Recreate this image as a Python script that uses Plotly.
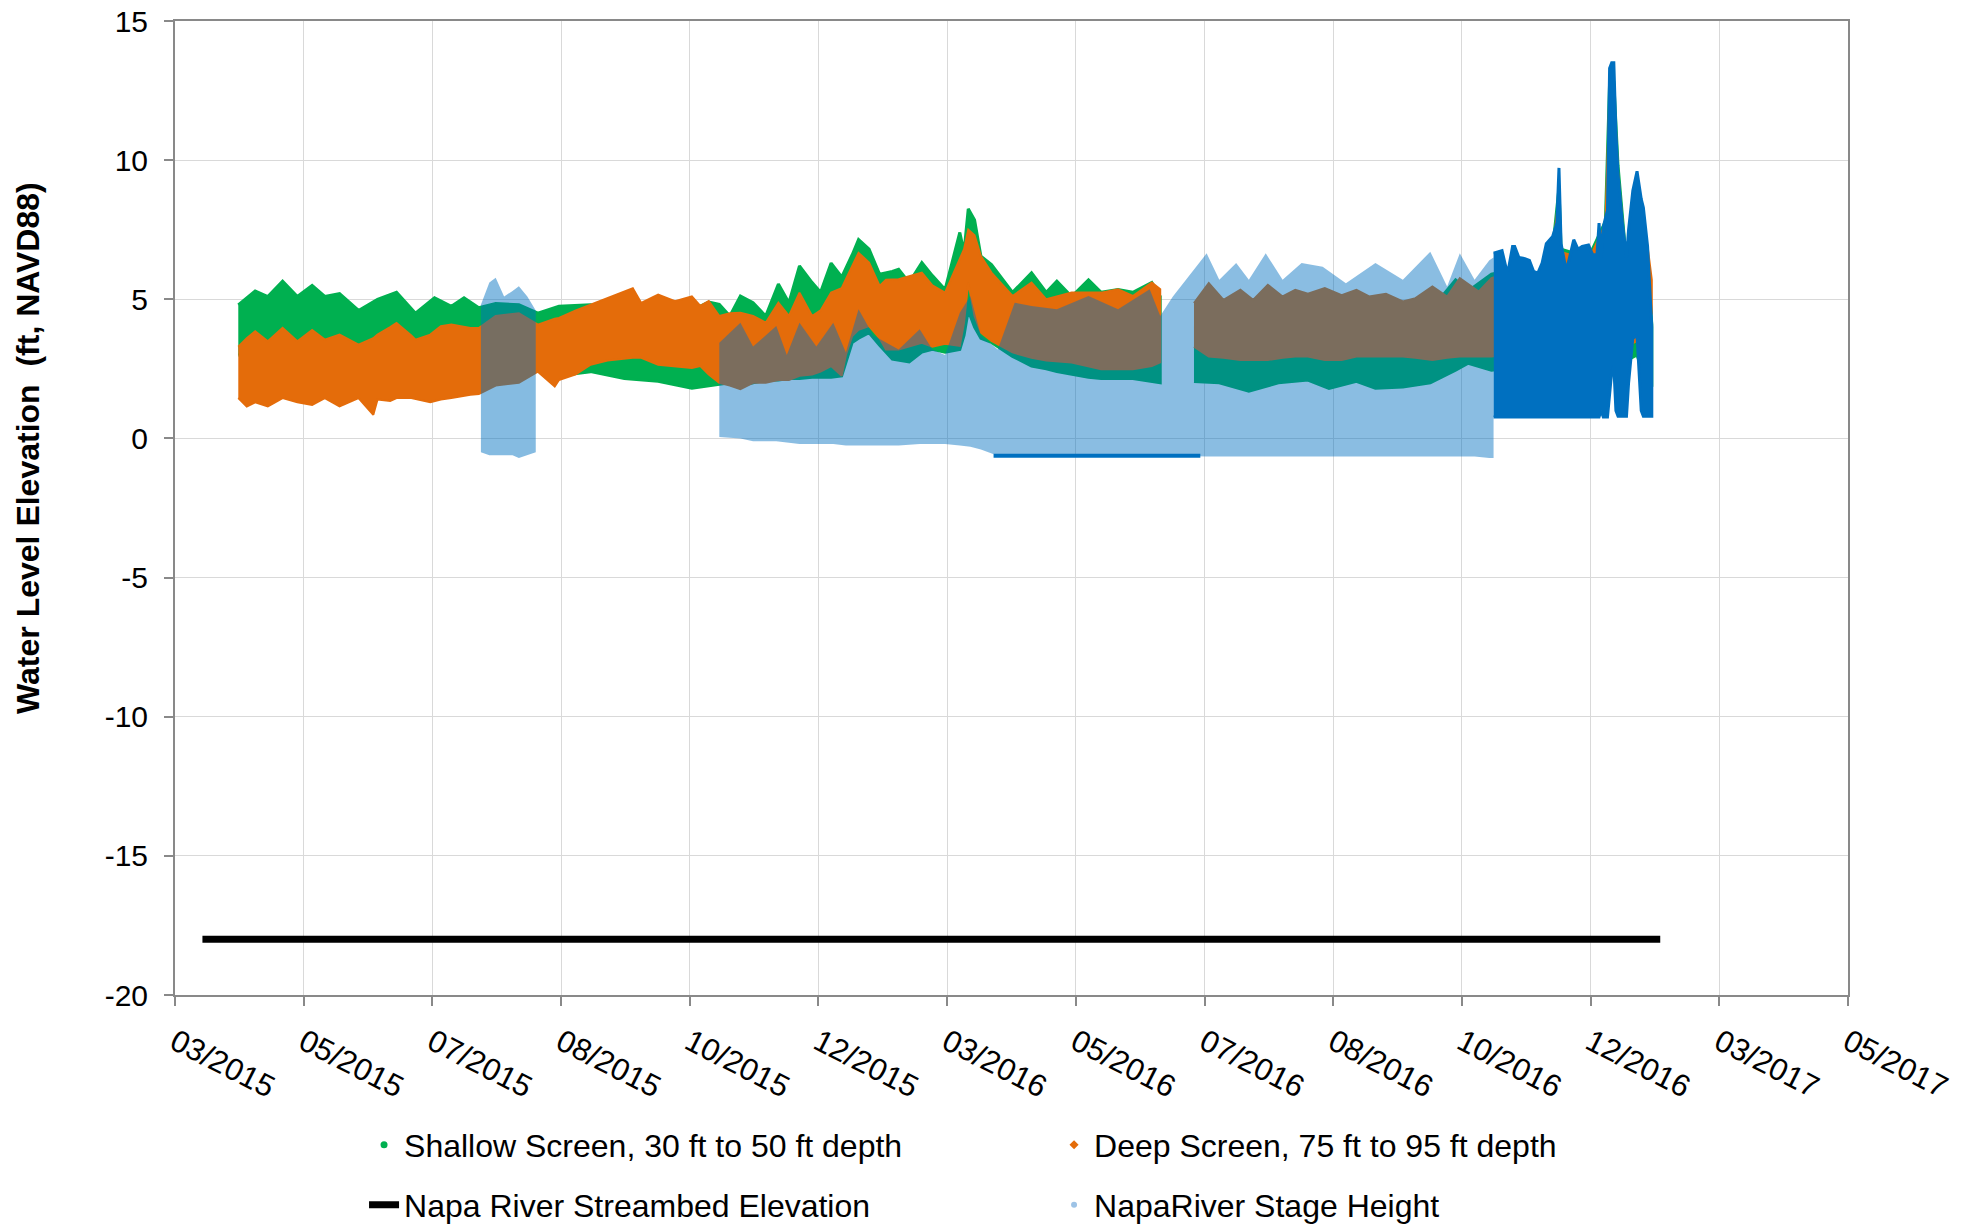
import plotly.graph_objects as go

# ---------------- axis ticks ----------------
tick_dates = ['2015-03-01', '2015-05-01', '2015-07-01', '2015-08-31', '2015-10-31', '2015-12-31',
              '2016-03-01', '2016-05-01', '2016-07-01', '2016-08-31', '2016-10-31', '2016-12-31',
              '2017-03-02', '2017-05-02']
tick_labels = ['03/2015', '05/2015', '07/2015', '08/2015', '10/2015', '12/2015', '03/2016',
               '05/2016', '07/2016', '08/2016', '10/2016', '12/2016', '03/2017', '05/2017']
y_ticks = [-20, -15, -10, -5, 0, 5, 10, 15]
y_tick_labels = ['-20', '-15', '-10', '-5', '0', '5', '10', '15']

# ---------------- Shallow screen (envelope: low / high) ----------------
shallow_a_dates = ['2015-03-31', '2015-04-08', '2015-04-14', '2015-04-21', '2015-04-28', '2015-05-05',
                   '2015-05-11', '2015-05-18', '2015-05-27', '2015-06-05', '2015-06-14', '2015-06-23',
                   '2015-07-02', '2015-07-10', '2015-07-16', '2015-07-23', '2015-07-31', '2015-08-11',
                   '2015-08-20', '2015-08-30', '2015-09-14', '2015-09-30', '2015-10-16', '2015-11-01',
                   '2015-11-09', '2015-11-14', '2015-11-19', '2015-11-24', '2015-11-30', '2015-12-06',
                   '2015-12-12', '2015-12-17', '2015-12-22', '2015-12-28', '2016-01-01', '2016-01-06',
                   '2016-01-11', '2016-01-16', '2016-01-19', '2016-01-24', '2016-01-29', '2016-02-04',
                   '2016-02-07', '2016-02-12', '2016-02-18', '2016-02-23', '2016-02-29', '2016-03-07',
                   '2016-03-09', '2016-03-11', '2016-03-14', '2016-03-17', '2016-03-22', '2016-04-01',
                   '2016-04-10', '2016-04-17', '2016-04-22', '2016-04-29', '2016-05-07', '2016-05-13',
                   '2016-05-21', '2016-05-28', '2016-06-06', '2016-06-10']
shallow_a_low = [3.0, 3.0, 3.0, 3.0, 3.0, 3.0,
                 3.0, 3.0, 3.0, 3.0, 3.0, 3.0,
                 3.0, 3.0, 3.0, 3.0, 3.0, 2.8,
                 2.55, 2.25, 2.4, 2.15, 2.05, 1.8,
                 1.9, 1.95, 2.0, 1.9, 2.0, 2.1,
                 2.1, 2.15, 2.15, 2.2, 2.2, 2.2,
                 2.25, 3.45, 3.6, 3.8, 3.35, 2.85,
                 2.8, 2.75, 3.1, 3.2, 3.1, 3.2,
                 3.7, 4.6, 4.0, 3.6, 3.45, 2.95,
                 2.6, 2.5, 2.4, 2.3, 2.2, 2.15,
                 2.15, 2.15, 2.05, 2.0]
shallow_a_high = [4.8, 5.3, 5.1, 5.65, 5.1, 5.5,
                  5.1, 5.2, 4.6, 5.0, 5.25, 4.5,
                  5.05, 4.75, 5.05, 4.7, 4.85, 4.8,
                  4.5, 4.75, 4.8, 4.6, 4.5, 4.6,
                  4.9, 4.82, 4.4, 5.12, 4.88, 4.4,
                  5.55, 4.88, 6.2, 5.6, 5.25, 6.3,
                  5.8, 6.6, 7.15, 6.8, 5.9, 6.0,
                  6.08, 5.6, 6.32, 5.85, 5.35, 7.4,
                  6.7, 8.25, 7.85, 6.55, 6.25, 5.25,
                  5.95, 5.25, 5.65, 5.1, 5.7, 5.25,
                  5.35, 5.25, 5.6, 5.1]

shallow_b_dates = ['2016-06-26', '2016-07-08', '2016-07-22', '2016-08-05', '2016-08-19', '2016-08-29',
                   '2016-09-11', '2016-09-20', '2016-10-03', '2016-10-16', '2016-10-28', '2016-11-03',
                   '2016-11-14', '2016-11-20', '2016-12-06', '2016-12-13', '2016-12-16', '2016-12-17',
                   '2016-12-30', '2017-01-07', '2017-01-09', '2017-01-11', '2017-01-13', '2017-01-17',
                   '2017-01-22', '2017-01-27', '2017-01-29']
shallow_b_low = [2.05, 2.0, 1.7, 2.0, 2.1, 1.8,
                 2.05, 1.8, 1.85, 2.0, 2.45, 2.7,
                 2.45, 2.5, 2.5, 2.6, 3.0, 3.0,
                 2.8, 3.0, 3.2, 3.2, 3.2, 2.8,
                 3.0, 1.85, 1.9]
shallow_b_high = [4.0, 4.0, 4.0, 4.0, 4.0, 4.0,
                  4.0, 4.0, 4.2, 4.6, 5.7, 5.3,
                  5.9, 6.0, 5.8, 6.8, 9.0, 6.8,
                  6.5, 7.8, 12.8, 12.8, 9.8, 6.3,
                  9.3, 6.5, 4.1]

# ---------------- Deep screen (envelope: low / high) ----------------
deep_a_dates = ['2015-03-31', '2015-04-04', '2015-04-08', '2015-04-14', '2015-04-21', '2015-04-28',
                '2015-05-05', '2015-05-11', '2015-05-18', '2015-05-27', '2015-06-03', '2015-06-05',
                '2015-06-11', '2015-06-14', '2015-06-21', '2015-06-23', '2015-06-30', '2015-07-05',
                '2015-07-10', '2015-07-19', '2015-07-23', '2015-07-31', '2015-08-11', '2015-08-20',
                '2015-08-28', '2015-08-30', '2015-09-07', '2015-09-14', '2015-09-22', '2015-10-04',
                '2015-10-08', '2015-10-16', '2015-10-24', '2015-11-01', '2015-11-05', '2015-11-09',
                '2015-11-14', '2015-11-19', '2015-11-24', '2015-11-30', '2015-12-06', '2015-12-12',
                '2015-12-17', '2015-12-22', '2015-12-28', '2016-01-01', '2016-01-06', '2016-01-11',
                '2016-01-13', '2016-01-16', '2016-01-19', '2016-01-24', '2016-01-29', '2016-02-01',
                '2016-02-07', '2016-02-18', '2016-02-23', '2016-02-29', '2016-03-07', '2016-03-09',
                '2016-03-11', '2016-03-14', '2016-03-17', '2016-03-22', '2016-04-01', '2016-04-10',
                '2016-04-17', '2016-04-29', '2016-05-13', '2016-05-21', '2016-05-28', '2016-06-06',
                '2016-06-10']
deep_a_low = [1.45, 1.15, 1.3, 1.15, 1.45, 1.3,
              1.2, 1.45, 1.15, 1.45, 0.85, 1.4,
              1.35, 1.45, 1.45, 1.4, 1.3, 1.4,
              1.45, 1.57, 1.6, 1.9, 2.0, 2.4,
              1.87, 2.1, 2.3, 2.65, 2.8, 2.9,
              2.9, 2.65, 2.6, 2.53, 2.6, 2.3,
              2.0, 1.9, 1.77, 2.0, 2.0, 2.1,
              2.1, 2.25, 2.3, 2.4, 2.6, 2.25,
              3.0, 3.68, 3.9, 4.04, 3.6, 3.2,
              3.2, 3.44, 3.3, 3.4, 3.33, 4.16,
              5.6, 4.4, 3.8, 3.5, 3.09, 2.9,
              2.8, 2.73, 2.49, 2.49, 2.49, 2.6,
              2.73]
deep_a_high = [3.3, 3.6, 3.85, 3.49, 3.97, 3.49,
               3.9, 3.55, 3.73, 3.37, 3.6, 3.73,
               4.0, 4.15, 3.7, 3.55, 3.73, 4.03,
               4.09, 3.97, 3.97, 4.4, 4.5, 4.09,
               4.3, 4.33, 4.6, 4.8, 5.05, 5.4,
               4.87, 5.17, 4.93, 5.1, 4.76, 4.94,
               4.4, 4.5, 4.52, 4.4, 4.16, 4.88,
               4.4, 5.24, 4.4, 4.6, 5.24, 5.4,
               5.72, 6.2, 6.67, 6.32, 5.48, 5.7,
               5.72, 5.96, 5.5, 5.24, 6.44, 6.8,
               7.5, 7.3, 6.55, 5.96, 5.12, 5.6,
               5.0, 5.24, 5.24, 5.36, 5.12, 5.6,
               5.36]

deep_b_dates = ['2016-06-26', '2016-07-03', '2016-07-10', '2016-07-18', '2016-07-24', '2016-07-31',
                '2016-08-07', '2016-08-13', '2016-08-19', '2016-08-27', '2016-09-04', '2016-09-11',
                '2016-09-17', '2016-09-25', '2016-10-03', '2016-10-09', '2016-10-17', '2016-10-24',
                '2016-10-30', '2016-11-08', '2016-11-14', '2016-11-20', '2016-12-06', '2016-12-13',
                '2016-12-16', '2016-12-17', '2016-12-30', '2017-01-07', '2017-01-09', '2017-01-11',
                '2017-01-13', '2017-01-17', '2017-01-22', '2017-01-27', '2017-01-29']
deep_b_low = [3.3, 2.94, 2.9, 2.82, 2.82, 2.82,
              2.9, 2.94, 2.94, 2.82, 2.82, 2.94,
              2.94, 2.94, 2.94, 2.9, 2.82, 2.9,
              2.94, 2.94, 2.94, 3.0, 3.0, 3.1,
              3.2, 3.2, 3.1, 3.3, 3.5, 3.5,
              3.5, 3.3, 3.5, 4.0, 4.5]
deep_b_high = [4.86, 5.58, 4.98, 5.34, 4.98, 5.52,
               5.1, 5.34, 5.2, 5.4, 5.15, 5.34,
               5.1, 5.2, 4.92, 5.04, 5.46, 5.1,
               5.76, 5.28, 5.76, 5.9, 5.7, 6.7,
               8.8, 6.7, 6.4, 7.7, 12.6, 12.6,
               9.6, 6.2, 9.1, 6.9, 5.7]

# ---------------- Napa River stage height ----------------
stage_a_dates = ['2015-07-24', '2015-07-28', '2015-07-31', '2015-08-04', '2015-08-08', '2015-08-11',
                 '2015-08-15', '2015-08-19']
stage_a_low = [-0.5, -0.6, -0.6, -0.6, -0.6, -0.7, -0.6, -0.5]
stage_a_high = [4.8, 5.6, 5.77, 5.1, 5.3, 5.47, 5.1, 4.6]

stage_b_dates = ['2015-11-14', '2015-11-24', '2015-11-30', '2015-12-11', '2015-12-16', '2015-12-22',
                 '2015-12-30', '2016-01-07', '2016-01-13', '2016-01-19', '2016-01-26', '2016-02-01',
                 '2016-02-07', '2016-02-17', '2016-02-23', '2016-02-29', '2016-03-07', '2016-03-12',
                 '2016-03-17', '2016-03-25', '2016-04-02', '2016-04-10', '2016-04-22', '2016-05-07',
                 '2016-05-21', '2016-06-05', '2016-06-10', '2016-06-16', '2016-07-02', '2016-07-08',
                 '2016-07-16', '2016-07-22', '2016-07-30', '2016-08-07', '2016-08-16', '2016-08-26',
                 '2016-09-06', '2016-09-20', '2016-10-03', '2016-10-16', '2016-10-24', '2016-10-30',
                 '2016-11-06', '2016-11-13', '2016-11-15']
stage_b_low = [0.05, 0.0, -0.1, -0.1, -0.15, -0.2,
               -0.2, -0.2, -0.25, -0.25, -0.25, -0.25,
               -0.25, -0.2, -0.2, -0.2, -0.25, -0.3,
               -0.4, -0.62, -0.62, -0.62, -0.62, -0.62,
               -0.62, -0.62, -0.62, -0.62, -0.65, -0.65,
               -0.65, -0.65, -0.65, -0.65, -0.65, -0.65,
               -0.65, -0.65, -0.65, -0.65, -0.65, -0.65,
               -0.65, -0.7, -0.7]
stage_b_high = [3.44, 4.16, 3.3, 4.04, 3.0, 4.16,
                3.3, 4.16, 3.09, 4.64, 3.7, 3.44,
                3.2, 3.92, 3.2, 3.0, 4.52, 5.12,
                3.7, 3.2, 4.88, 4.76, 4.64, 5.12,
                4.64, 5.36, 4.4, 5.1, 6.65, 5.7,
                6.3, 5.7, 6.65, 5.7, 6.3, 6.17,
                5.58, 6.3, 5.7, 6.71, 5.46, 6.65,
                5.7, 6.4, 6.5]

stage_floor_dates = ['2016-03-23', '2016-06-29']
stage_floor_values = [-0.62, -0.62]

stage_c_dates = ['2016-11-15', '2016-11-17', '2016-11-19', '2016-11-21', '2016-11-22', '2016-11-24',
                 '2016-11-25', '2016-11-27', '2016-11-29', '2016-12-02', '2016-12-04', '2016-12-06',
                 '2016-12-08', '2016-12-10', '2016-12-13', '2016-12-15', '2016-12-16', '2016-12-17',
                 '2016-12-19', '2016-12-20', '2016-12-22', '2016-12-23', '2016-12-25', '2016-12-27',
                 '2016-12-30', '2017-01-01', '2017-01-03', '2017-01-04', '2017-01-05', '2017-01-06',
                 '2017-01-08', '2017-01-09', '2017-01-10', '2017-01-11', '2017-01-12', '2017-01-13',
                 '2017-01-15', '2017-01-17', '2017-01-18', '2017-01-20', '2017-01-22', '2017-01-24',
                 '2017-01-25', '2017-01-27', '2017-01-29']
stage_c_low = [0.77, 0.77, 0.77, 0.77, 0.77, 0.77,
               0.77, 0.77, 0.77, 0.77, 0.77, 0.77,
               0.77, 0.77, 0.77, 0.77, 0.77, 0.77,
               0.77, 0.77, 0.77, 0.77, 0.77, 0.77,
               0.77, 0.77, 0.77, 0.77, 1.0, 0.77,
               0.77, 1.5, 2.4, 2.6, 1.0, 0.8,
               0.8, 0.8, 2.0, 3.6, 3.7, 1.0,
               0.8, 0.8, 0.8]
stage_c_high = [6.66, 6.7, 6.75, 6.1, 6.06, 6.9,
                6.9, 6.5, 6.48, 6.4, 6.0, 5.94,
                6.3, 7.0, 7.26, 7.74, 9.72, 7.0,
                6.2, 6.18, 6.9, 7.14, 6.8, 6.9,
                6.95, 6.6, 6.6, 7.74, 6.5, 7.6,
                8.2, 13.3, 13.5, 13.5, 11.0, 9.5,
                7.8, 6.5, 7.5, 8.9, 9.6, 8.6,
                8.3, 6.9, 4.0]

# ---------------- Streambed ----------------
streambed_dates = ['2015-03-14', '2017-02-02']
streambed_values = [-18, -18]

# ---------------- styles ----------------
GREEN = '#00B050'
ORANGE = '#E46C0A'
BLUE = '#0070C0'
FONT = 'Liberation Sans, Arial, sans-serif'

fig = go.Figure()


def band(dates, low, high, fillcolor, linecolor, lw):
    fig.add_trace(go.Scatter(
        x=list(dates) + list(dates)[::-1],
        y=list(high) + list(low)[::-1],
        mode='lines', fill='toself', fillcolor=fillcolor,
        line=dict(color=linecolor, width=lw, shape='linear'),
        showlegend=False, hoverinfo='skip'))


band(shallow_a_dates, shallow_a_low, shallow_a_high, GREEN, GREEN, 3)
band(shallow_b_dates, shallow_b_low, shallow_b_high, GREEN, GREEN, 3)
band(deep_a_dates, deep_a_low, deep_a_high, ORANGE, ORANGE, 2)
band(deep_b_dates, deep_b_low, deep_b_high, ORANGE, ORANGE, 2)
band(stage_a_dates, stage_a_low, stage_a_high, 'rgba(0,112,192,0.48)', 'rgba(0,112,192,0)', 0)
band(stage_b_dates, stage_b_low, stage_b_high, 'rgba(0,112,192,0.46)', 'rgba(0,112,192,0)', 0)
fig.add_trace(go.Scatter(x=stage_floor_dates, y=stage_floor_values, mode='lines',
                         line=dict(color=BLUE, width=4), showlegend=False, hoverinfo='skip'))
band(stage_c_dates, stage_c_low, stage_c_high, BLUE, BLUE, 3)

fig.add_trace(go.Scatter(x=streambed_dates, y=streambed_values, mode='lines',
                         line=dict(color='black', width=7),
                         name='Napa River Streambed Elevation', legend='legend2', legendrank=1))

# legend entries
fig.add_trace(go.Scatter(x=[None], y=[None], mode='markers',
                         marker=dict(symbol='circle', size=7, color=GREEN),
                         name='Shallow Screen, 30 ft to 50 ft depth', legend='legend', legendrank=1))
fig.add_trace(go.Scatter(x=[None], y=[None], mode='markers',
                         marker=dict(symbol='diamond', size=7, color=ORANGE),
                         name='Deep Screen, 75 ft to 95 ft depth', legend='legend', legendrank=2))
fig.add_trace(go.Scatter(x=[None], y=[None], mode='markers',
                         marker=dict(symbol='circle', size=6, color='#9DC3E6'),
                         name='NapaRiver Stage Height', legend='legend2', legendrank=2))

axis_common = dict(showgrid=True, gridcolor='#D9D9D9', gridwidth=1,
                   showline=True, linecolor='#898989', linewidth=2, mirror=True,
                   ticks='outside', ticklen=9, tickcolor='#898989', tickwidth=1.5,
                   zeroline=False, automargin=False, ticklabeloverflow='allow')

# the page body adds an 8 px offset, so the figure is 8 px smaller and margins shifted
fig.update_layout(
    width=1972, height=1217,
    margin=dict(l=167, r=132, t=13, b=230, autoexpand=False),
    paper_bgcolor='white', plot_bgcolor='white',
    font=dict(family=FONT, color='black'),
    xaxis=dict(type='date', range=[tick_dates[0], tick_dates[-1]],
               tickmode='array', tickvals=tick_dates, ticktext=tick_labels,
               tickangle=27, ticklabelstandoff=6,
               tickfont=dict(family=FONT, size=31, color='black'), **axis_common),
    yaxis=dict(range=[-20, 15], tickmode='array', tickvals=y_ticks, ticktext=y_tick_labels,
               ticklabelstandoff=10,
               tickfont=dict(family=FONT, size=30, color='black'), **axis_common),
    legend=dict(orientation='h', x=0.113, xanchor='left', y=-0.154, yanchor='middle',
                entrywidth=645, entrywidthmode='pixels',
                font=dict(family=FONT, size=32, color='black'), bgcolor='rgba(0,0,0,0)'),
    legend2=dict(orientation='h', x=0.113, xanchor='left', y=-0.2156, yanchor='middle',
                 entrywidth=645, entrywidthmode='pixels',
                 font=dict(family=FONT, size=32, color='black'), bgcolor='rgba(0,0,0,0)'),
    annotations=[dict(text='<b>Water Level Elevation \u00a0(ft, NAVD88)</b>', textangle=-90,
                      xref='paper', yref='paper', x=-0.0879, y=0.5616,
                      xanchor='center', yanchor='middle', showarrow=False,
                      font=dict(family=FONT, size=32, color='black'))],
)

fig.write_html('out.html')
